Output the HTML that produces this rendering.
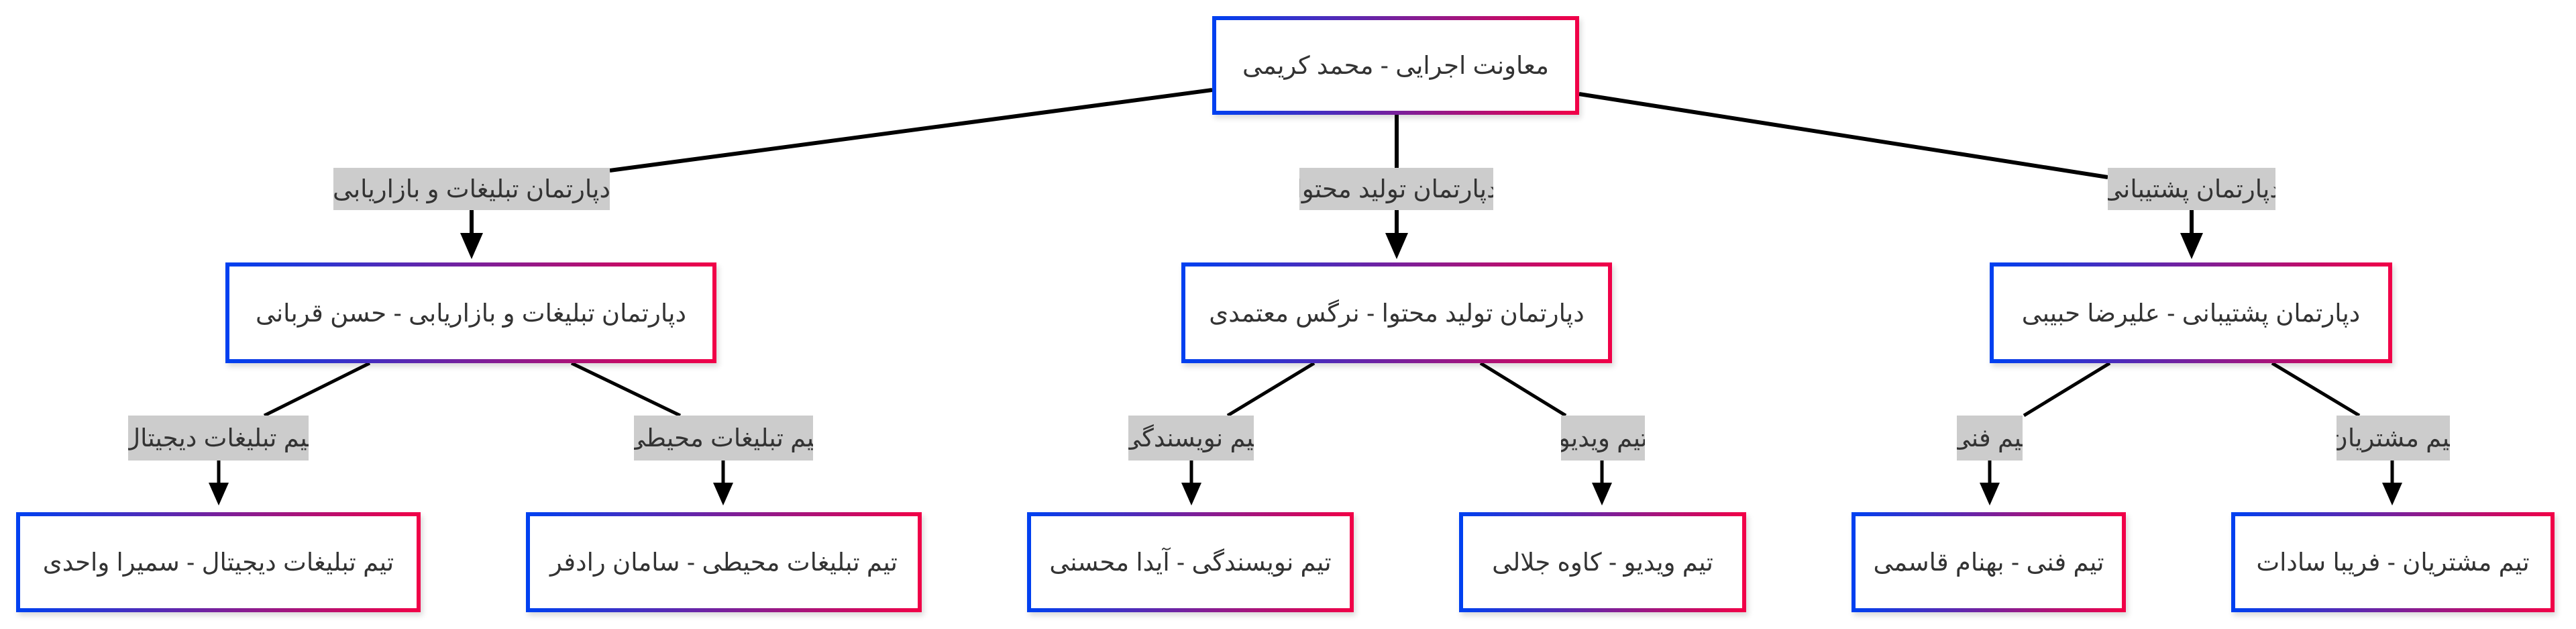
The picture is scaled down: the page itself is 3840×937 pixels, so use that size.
<!DOCTYPE html>
<html><head><meta charset="utf-8"><style>
html,body{margin:0;padding:0;background:#fff;}
body{width:3840px;height:937px;position:relative;overflow:hidden;font-family:"Liberation Sans","DejaVu Sans",sans-serif;color:#333;}
.b{position:absolute;box-sizing:border-box;border:6px solid;border-image:linear-gradient(to right,#0040f0,#f00048) 1;background:#fff;display:flex;align-items:center;justify-content:center;font-size:37px;white-space:nowrap;box-shadow:3px 5px 8px rgba(0,0,0,0.15);direction:rtl;}
.l{position:absolute;background:#ccc;display:flex;align-items:center;justify-content:center;font-size:37px;white-space:nowrap;overflow:hidden;direction:rtl;}
svg{position:absolute;left:0;top:0;}
</style></head><body>
<svg width="3840" height="937">
<g stroke="#000" stroke-width="6" fill="none">
<line x1="1807" y1="134" x2="909" y2="254"/>
<line x1="2082" y1="171" x2="2082" y2="250"/>
<line x1="2354" y1="140" x2="3142" y2="264"/>
<line x1="703" y1="313" x2="703" y2="350"/>
<line x1="2082" y1="313" x2="2082" y2="350"/>
<line x1="3267" y1="313" x2="3267" y2="350"/>
</g>
<g stroke="#000" stroke-width="5" fill="none">
<line x1="551" y1="541" x2="394" y2="619"/>
<line x1="852" y1="541" x2="1014" y2="619"/>
<line x1="1959" y1="541" x2="1830" y2="619"/>
<line x1="2207" y1="541" x2="2334" y2="619"/>
<line x1="3145" y1="541" x2="3017" y2="619"/>
<line x1="3387" y1="541" x2="3517" y2="619"/>
<line x1="326" y1="686" x2="326" y2="722"/>
<line x1="1078" y1="686" x2="1078" y2="722"/>
<line x1="1776" y1="686" x2="1776" y2="722"/>
<line x1="2388" y1="686" x2="2388" y2="722"/>
<line x1="2966" y1="686" x2="2966" y2="722"/>
<line x1="3566" y1="686" x2="3566" y2="722"/>
</g>
<g fill="#000">
<polygon points="686,347 720,347 703,386"/>
<polygon points="2065,347 2099,347 2082,386"/>
<polygon points="3250,347 3284,347 3267,386"/>
<polygon points="311,719 341,719 326,753"/>
<polygon points="1063,719 1093,719 1078,753"/>
<polygon points="1761,719 1791,719 1776,753"/>
<polygon points="2373,719 2403,719 2388,753"/>
<polygon points="2951,719 2981,719 2966,753"/>
<polygon points="3551,719 3581,719 3566,753"/>
</g>
</svg>
<div class="b" style="left:1807px;top:24px;width:547px;height:147px;">معاونت اجرایی - محمد کریمی</div>

<div class="l" style="left:497px;top:250px;width:412px;height:63px;">دپارتمان تبلیغات و بازاریابی</div>
<div class="l" style="left:1937px;top:250px;width:289px;height:63px;">دپارتمان تولید محتوا</div>
<div class="l" style="left:3142px;top:250px;width:250px;height:63px;">دپارتمان پشتیبانی</div>

<div class="b" style="left:336px;top:391px;width:732px;height:150px;">دپارتمان تبلیغات و بازاریابی - حسن قربانی</div>
<div class="b" style="left:1761px;top:391px;width:642px;height:150px;">دپارتمان تولید محتوا - نرگس معتمدی</div>
<div class="b" style="left:2966px;top:391px;width:600px;height:150px;">دپارتمان پشتیبانی - علیرضا حبیبی</div>

<div class="l" style="left:191px;top:619px;width:269px;height:67px;">تیم تبلیغات دیجیتال</div>
<div class="l" style="left:945px;top:619px;width:267px;height:67px;">تیم تبلیغات محیطی</div>
<div class="l" style="left:1682px;top:619px;width:187px;height:67px;">تیم نویسندگی</div>
<div class="l" style="left:2327px;top:619px;width:125px;height:67px;">تیم ویدیو</div>
<div class="l" style="left:2917px;top:619px;width:98px;height:67px;">تیم فنی</div>
<div class="l" style="left:3483px;top:619px;width:169px;height:67px;">تیم مشتریان</div>

<div class="b" style="left:24px;top:763px;width:603px;height:149px;">تیم تبلیغات دیجیتال - سمیرا واحدی</div>
<div class="b" style="left:784px;top:763px;width:590px;height:149px;">تیم تبلیغات محیطی - سامان رادفر</div>
<div class="b" style="left:1531px;top:763px;width:487px;height:149px;">تیم نویسندگی - آیدا محسنی</div>
<div class="b" style="left:2175px;top:763px;width:428px;height:149px;">تیم ویدیو - کاوه جلالی</div>
<div class="b" style="left:2760px;top:763px;width:409px;height:149px;">تیم فنی - بهنام قاسمی</div>
<div class="b" style="left:3326px;top:763px;width:482px;height:149px;">تیم مشتریان - فریبا سادات</div>
</body></html>
